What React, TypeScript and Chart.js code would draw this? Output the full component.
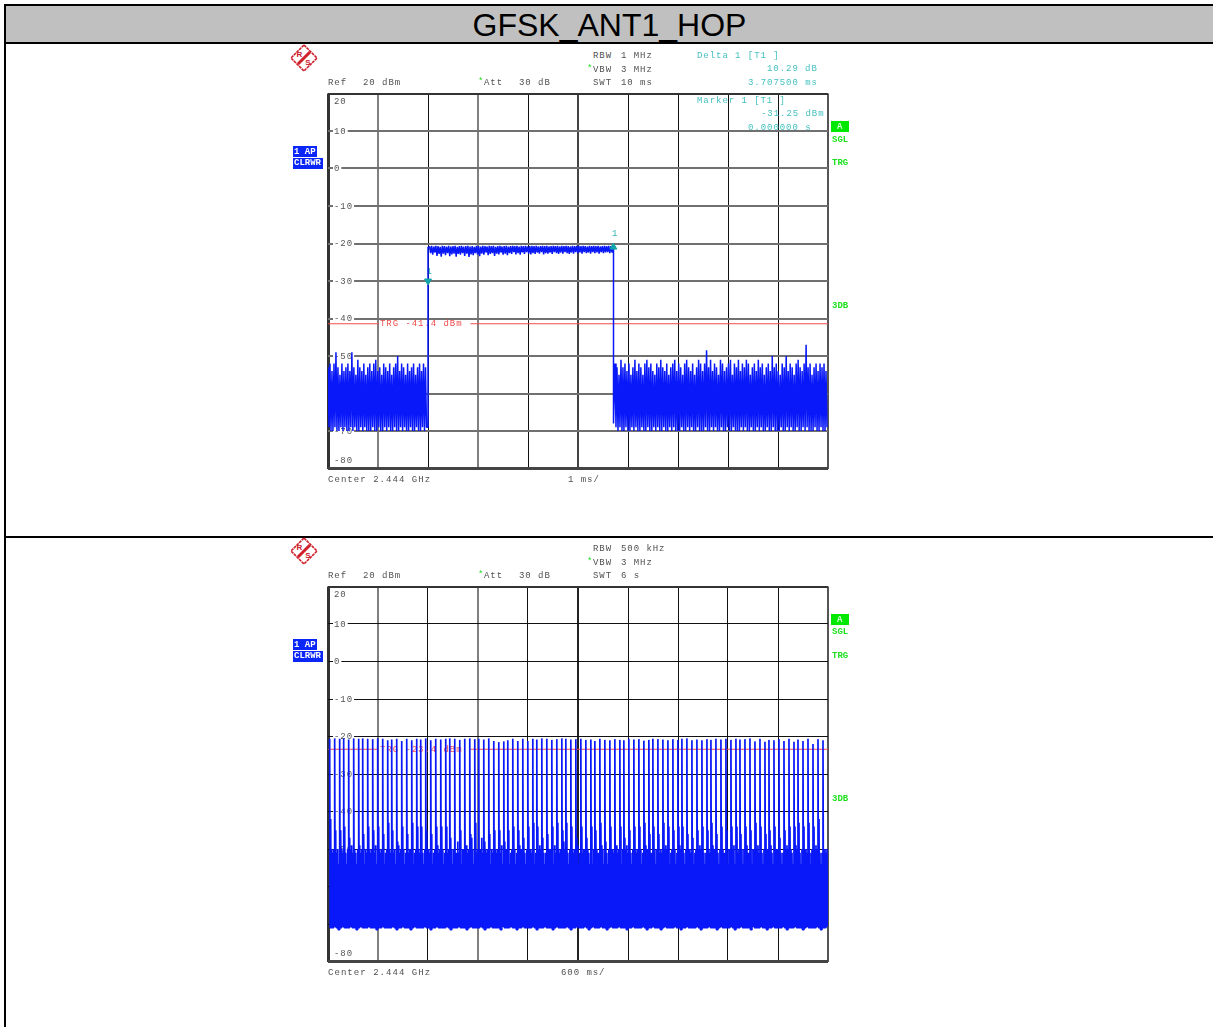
import React, { useEffect, useRef } from "react";
import { Chart, registerables } from "chart.js";

Chart.register(...registerables);

// ---- shared axis values
const yTicks = [20, 10, 0, -10, -20, -30, -40, -50, -60, -70, -80];
const yLabelled = [20, 10, 0, -10, -20, -30, -40, -50, -70, -80];
const xTicksA = [0, 1, 2, 3, 4, 5, 6, 7, 8, 9, 10];
const xTicksB = [0, 0.6, 1.2, 1.8, 2.4, 3, 3.6, 4.2, 4.8, 5.4, 6];

// ---- upper trace (10 ms sweep, dBm)
const noiseLeftPeaks = [-53, -52, -54, -52, -49, -53, -55, -52, -54, -53, -52, -54, -49, -53, -55, -51, -53, -54, -52, -55, -53, -52, -54, -52, -51, -54, -53, -55, -52, -53, -54, -52, -55, -53, -52, -50, -54, -52, -53, -55, -52, -54, -53, -52, -55, -53, -52, -54, -52, -53];
const noiseLeftFloors = [-69, -70, -70, -69, -70, -70, -69, -70, -69, -70, -70, -69, -70, -69, -70, -70, -69, -70, -69, -70, -70, -70, -69, -70, -70, -69, -70, -70, -69, -70, -69, -70, -70, -69, -70, -70, -69, -70, -69, -70, -70, -69, -70, -70, -69, -70, -70, -69, -70, -69];
const pulseSamples = [-20.7, -22.6, -20.6, -23, -20.8, -22.4, -20.6, -23.3, -20.7, -22.8, -20.9, -23.5, -20.6, -22.7, -20.7, -23.1, -20.8, -22.6, -20.6, -23.4, -20.8, -22.9, -20.7, -22.7, -20.6, -23.5, -20.9, -22.8, -20.7, -23, -20.6, -22.6, -20.8, -23.3, -20.7, -22.7, -20.6, -23.6, -20.8, -22.9, -20.7, -23.1, -20.9, -22.6, -20.6, -22.9, -20.7, -23.4, -20.8, -22.7, -20.6, -23, -20.7, -22.4, -20.8, -23.1, -20.6, -22.8, -20.7, -22.6, -20.6, -23.3, -20.9, -22.7, -20.7, -22.9, -20.6, -22.4, -20.8, -23, -20.7, -22.7, -20.6, -23.1, -20.8, -22.6, -20.7, -22.8, -20.6, -22.3, -20.7, -22.9, -20.6, -22.6, -20.8, -23, -20.6, -22.4, -20.7, -22.8, -20.6, -22.3, -20.8, -22.7, -20.7, -22.9, -20.6, -22.6, -20.7, -22.8, -20.6, -22.4, -20.8, -22.7, -20.7, -22.3, -20.6, -22.9, -20.7, -22.6, -20.6, -22.7, -20.8, -22.4, -20.7, -22.8, -20.6, -22.3, -20.7, -22.6, -20.6, -22.8, -20.8, -22.4, -20.6, -22.7, -20.7, -22.3, -20.6, -22.6, -20.7, -22.8, -20.8, -22.4, -20.6, -22.7, -20.7, -22.3, -20.6, -22.6, -20.6, -22.4, -20.7, -22.7, -20.6, -22.3, -20.7, -22.6, -20.8, -22.4, -20.6, -22.7, -20.7, -22.3, -20.6, -22.6, -20.7, -22.4, -20.6, -22.7, -20.8, -22.3, -20.7, -22.6, -20.6, -22.4, -20.7, -22.3, -20.6, -22.6, -20.7, -22.4];
const noiseRightPeaks = [-52, -53, -55, -51, -53, -52, -54, -52, -55, -53, -51, -54, -52, -53, -55, -52, -51, -53, -52, -54, -55, -52, -53, -51, -53, -54, -52, -55, -53, -52, -51, -54, -52, -53, -55, -52, -51, -53, -54, -52, -55, -53, -51, -52, -54, -52, -48.5, -53, -51, -54, -52, -53, -55, -51, -52, -54, -53, -52, -51, -55, -52, -53, -51, -54, -52, -53, -51, -52, -55, -53, -52, -54, -51, -53, -52, -55, -53, -52, -54, -50, -53, -52, -54, -55, -52, -53, -50, -54, -52, -53, -55, -52, -51, -53, -54, -52, -47, -53, -52, -55, -53, -52, -54, -52, -53, -52, -54];
const noiseRightFloors = [-69, -70, -69, -70, -70, -69, -70, -70, -69, -70, -69, -70, -70, -69, -70, -70, -69, -70, -70, -69, -70, -69, -70, -70, -69, -70, -70, -69, -70, -69, -70, -70, -70, -69, -70, -70, -69, -70, -69, -70, -70, -69, -70, -70, -70, -69, -70, -70, -69, -70, -69, -70, -70, -69, -70, -70, -69, -70, -70, -69, -70, -70, -70, -69, -70, -69, -70, -70, -69, -70, -70, -69, -70, -69, -70, -70, -69, -70, -70, -69, -70, -70, -70, -69, -70, -70, -69, -70, -69, -70, -70, -69, -70, -70, -69, -70, -69, -70, -70, -70, -69, -70, -70, -69, -70, -70, -69];
const riseEdge = [[2, -69], [2, -21], [2.03, -21]];
const fallEdge = [[5.71, -21], [5.71, -68]];

// ---- lower trace (6 s sweep, dBm): one row per hop
const hopRows = [
  [-20.6, -42, -50, -51, -50],
  [-20.5, -45, -51, -50, -54],
  [-20.6, -45, -50, -51],
  [-20.5, -44, -51, -54, -50],
  [-20.8, -47, -50, -49, -51],
  [-20.5, -50, -51, -54, -50],
  [-20.6, -49, -51, -50],
  [-20.5, -46, -54, -50, -51],
  [-20.6, -44, -50, -51, -50],
  [-20.7, -45, -51, -49, -54],
  [-20.5, -44, -50, -51, -50],
  [-20.6, -46, -54, -51, -50],
  [-21, -43, -50, -51],
  [-20.8, -45, -51, -50, -54],
  [-20.6, -48, -49, -51, -50],
  [-21.2, -44, -50, -54, -51],
  [-20.6, -46, -51, -50, -50],
  [-21, -43, -54, -51, -50],
  [-20.6, -44, -50, -51],
  [-20.8, -44, -51, -54, -50],
  [-20.5, -45, -50, -50, -51],
  [-21, -46, -54, -51, -50],
  [-20.6, -44, -49, -51, -50],
  [-20.8, -44, -50, -54, -51],
  [-20.6, -44, -51, -50],
  [-20.5, -47, -50, -54, -50],
  [-20.6, -52, -51, -48, -51],
  [-20.9, -45, -54, -50, -50],
  [-20.6, -51, -49, -51, -50],
  [-20.5, -46, -47, -50, -54],
  [-20.7, -43, -51, -50],
  [-20.6, -52, -50, -47, -51],
  [-20.8, -48, -50, -51, -50],
  [-20.5, -46, -54, -50, -51],
  [-21.2, -45, -50, -51, -50],
  [-21.5, -45, -51, -49, -54],
  [-21.3, -48, -50, -50],
  [-21, -45, -54, -51, -50],
  [-20.6, -44, -50, -54, -51],
  [-21.2, -45, -49, -50, -50],
  [-20.6, -47, -51, -54, -50],
  [-21.2, -44, -50, -50, -51],
  [-20.6, -43, -54, -51],
  [-20.8, -44, -50, -49, -50],
  [-20.5, -47, -51, -54, -51],
  [-20.6, -46, -50, -50, -50],
  [-20.9, -44, -54, -49, -51],
  [-20.7, -43, -50, -51, -50],
  [-20.5, -45, -48, -50],
  [-20.6, -43, -51, -54, -50],
  [-20.8, -44, -50, -51, -50],
  [-20.7, -47, -49, -54, -51],
  [-20.6, -44, -51, -50, -50],
  [-20.9, -47, -50, -51, -54],
  [-20.8, -44, -54, -50],
  [-21.2, -45, -50, -51, -51],
  [-20.6, -43, -49, -50, -54],
  [-20.9, -48, -51, -54, -50],
  [-21, -44, -50, -50, -51],
  [-20.7, -51, -49, -51, -50],
  [-20.9, -44, -54, -50],
  [-21, -47, -50, -49, -51],
  [-20.6, -45, -51, -54, -50],
  [-20.8, -44, -50, -51, -50],
  [-20.7, -44, -50, -54, -51],
  [-21.1, -43, -49, -50, -50],
  [-20.9, -46, -51, -51],
  [-20.6, -44, -50, -54, -50],
  [-20.7, -46, -51, -50, -51],
  [-20.8, -43, -50, -49, -50],
  [-21, -44, -54, -51, -50],
  [-20.7, -45, -50, -54, -51],
  [-20.9, -44, -49, -50],
  [-20.6, -44, -51, -54, -50],
  [-20.5, -46, -50, -50, -51],
  [-21, -47, -54, -51, -50],
  [-20.8, -45, -50, -49, -50],
  [-21, -44, -51, -54, -51],
  [-20.7, -45, -50, -51],
  [-20.9, -43, -49, -50, -50],
  [-20.6, -46, -51, -54, -50],
  [-20.8, -44, -50, -51, -51],
  [-20.6, -45, -54, -50, -50],
  [-20.9, -44, -50, -49, -54],
  [-20.6, -44, -51, -50],
  [-20.8, -46, -50, -54, -50],
  [-20.7, -44, -49, -51, -51],
  [-20.5, -45, -54, -50, -50],
  [-21.3, -43, -50, -49, -51],
  [-20.6, -44, -51, -54, -50],
  [-21.4, -46, -50, -50],
  [-20.9, -45, -49, -51, -54],
  [-21, -44, -50, -50, -50],
  [-20.7, -47, -51, -54, -51],
  [-21.2, -45, -50, -49, -50],
  [-20.6, -44, -50, -51, -54],
  [-21.4, -44, -49, -50],
  [-20.8, -43, -51, -54, -50],
  [-21.2, -44, -50, -50, -51],
  [-20.6, -43, -54, -51, -50],
  [-22, -44, -50, -49, -50],
  [-20.7, -42, -51, -54, -51],
  [-21, -50, -50, -51, -50],
];
const hopFloors = [-71, -71, -70.6, -71, -71.5, -71, -70.6, -71, -71, -71, -70.6, -71, -71, -71.5, -71, -70.6, -71, -71, -71, -70.6, -71, -71, -71, -71.5, -71, -71, -70.6, -71, -71, -71, -71, -70.6, -71, -71.5, -71, -71, -70.6, -71, -71, -71, -71.5, -71, -70.6, -71, -71, -71, -71, -70.6, -71, -71, -71.5, -71, -71, -70.6, -71, -71, -71, -71, -70.6, -71, -71.5, -71, -71, -71, -70.6, -71, -71, -71, -71.5, -71, -70.6, -71, -71, -71, -71, -70.6, -71, -71.5, -71, -71, -70.6, -71, -71, -71, -71, -71.5, -70.6, -71, -71, -71, -70.6, -71, -71, -71.5, -71, -71, -70.6, -71, -71, -71, -71, -70.6, -71, -71.5, -71, -71, -71, -70.6, -71, -71, -71, -71.5, -71, -70.6, -71, -71, -71, -71, -70.6, -71, -71.5, -71, -71, -70.6, -71];

// ---- markers and trigger levels
const markerXs = [2, 5.7075];
const markerYs = [-30, -20.96];
const markerRotations = [180, 0];
const markerLabelLift = [9, 13];
const triggerA = -41.4;
const triggerB = -23.4;
const triggerGap = [1.02, 2.85];
const triggerGapB = [0.612, 1.71];

// ---- texts: [x, centre y, text]
const headerTitle = "GFSK_ANT1_HOP";
const greyTextA: [number, number, string][] = [
  [593, 55, "RBW"], [621, 55, "1 MHz"], [593, 69, "VBW"], [621, 69, "3 MHz"], [593, 82, "SWT"], [621, 82, "10 ms"],
  [328, 82, "Ref"], [363, 82, "20 dBm"], [484, 82, "Att"], [519, 82, "30 dB"], [568, 479, "1 ms/"],
];
const greyTextB: [number, number, string][] = [
  [593, 548, "RBW"], [621, 548, "500 kHz"], [593, 562, "VBW"], [621, 562, "3 MHz"], [593, 575, "SWT"], [621, 575, "6 s"],
  [328, 575, "Ref"], [363, 575, "20 dBm"], [484, 575, "Att"], [519, 575, "30 dB"], [561, 972, "600 ms/"],
];
const centerText: [number, number, string][] = [
  [328, 479, "Center 2.444 GHz"], [328, 972, "Center 2.444 GHz"],
];
const tealText: [number, number, string][] = [
  [697, 55, "Delta 1 [T1 ]"], [767, 68, "10.29 dB"], [748, 82, "3.707500 ms"],
  [697, 100, "Marker 1 [T1 ]"], [761, 113, "-31.25 dBm"], [748, 127, "0.000000 s"],
];
const starText: [number, number, string][] = [
  [478, 81, "*"], [587, 68, "*"], [478, 574, "*"], [587, 561, "*"],
];
const greenText: [number, number, string][] = [
  [832, 139, "SGL"], [832, 162, "TRG"], [832, 305, "3DB"],
  [832, 631, "SGL"], [832, 655, "TRG"], [832, 798, "3DB"],
];
const statusTops = [121, 614];
const traceTops = [146, 639];
const logoTops = [58, 551];

const TRACE = "#0818f8";
const MONO = '"Liberation Mono", monospace';

function zigzag(peaks: number[], floors: number[], start: number, end: number) {
  const dx = (end - start) / peaks.length;
  const out: { x: number; y: number }[] = [];
  peaks.forEach((p, i) => {
    out.push({ x: start + i * dx, y: p });
    out.push({ x: start + (i + 0.5) * dx, y: floors[i % floors.length] });
  });
  return out;
}

function pulseLine(samples: number[], start: number, end: number) {
  const dx = (end - start) / samples.length;
  return samples.map((y, i) => ({ x: start + i * dx, y }));
}

const pairs = (list: number[][]) => list.map(([x, y]) => ({ x, y }));

const traceA = [
  ...zigzag(noiseLeftPeaks, noiseLeftFloors, 0, 1.99),
  ...pairs(riseEdge),
  ...pulseLine(pulseSamples, 2.03, 5.7),
  ...pairs(fallEdge),
  ...zigzag(noiseRightPeaks, noiseRightFloors, 5.74, 10),
];

const hopPeaks = hopRows.flat();
const hopFloorsFull = hopPeaks.map((_, i) => hopFloors[Math.floor(i / 2) % hopFloors.length]);
const traceB = zigzag(hopPeaks, hopFloorsFull, 0.02, 6);

type Cfg = {
  xMax: number;
  xTicks: number[];
  trace: { x: number; y: number }[];
  traceWidth: number;
  trigger: number;
  gap: number[];
  hColor: string;
  hWidth: number;
  vColors: string[];
  markers: boolean;
};

const cfgA: Cfg = {
  xMax: 10, xTicks: xTicksA, trace: traceA, traceWidth: 1.5, trigger: triggerA, gap: triggerGap,
  hColor: "#707070", hWidth: 2,
  vColors: ["#333", "#808080", "#111", "#808080", "#111", "#444", "#111", "#111", "#111", "#111", "#555"],
  markers: true,
};
const cfgB: Cfg = {
  xMax: 6, xTicks: xTicksB, trace: traceB, traceWidth: 1.7, trigger: triggerB, gap: triggerGapB,
  hColor: "#111", hWidth: 1,
  vColors: ["#333", "#808080", "#111", "#808080", "#111", "#222", "#111", "#111", "#111", "#111", "#555"],
  markers: false,
};

const vWidths = [3, 2, 1, 2, 1, 2, 1, 1, 1, 1, 2];

function SpecChart({ cfg, top }: { cfg: Cfg; top: number }) {
  const ref = useRef<HTMLCanvasElement>(null);
  useEffect(() => {
    const underlay = {
      id: "underlay",
      beforeDatasetsDraw(chart: any) {
        const { ctx, chartArea, scales } = chart;
        const y = scales.y;
        const x = scales.x;
        ctx.save();
        ctx.font = `9px ${MONO}`;
        (ctx as any).letterSpacing = "0.95px";
        ctx.textBaseline = "middle";
        ctx.textAlign = "left";
        yLabelled.forEach((v) => {
          const text = String(v);
          const shift = v === 20 ? 7.5 : v === -80 ? -8 : 0;
          const py = y.getPixelForValue(v) + shift;
          const lx = chartArea.left + 6;
          const w = ctx.measureText(text).width;
          ctx.fillStyle = "#fff";
          ctx.fillRect(lx - 1, py - 4, w + 2, 8);
          ctx.fillStyle = "#555";
          ctx.fillText(text, lx, py + 0.5);
        });
        ctx.fillStyle = "#f04c4c";
        const trgLabel = `TRG ${cfg.trigger.toFixed(1)} dBm`;
        ctx.fillText(trgLabel, x.getPixelForValue(cfg.gap[0]) + 1, y.getPixelForValue(cfg.trigger));
        if (cfg.markers) {
          ctx.fillStyle = "#35b5b5";
          markerXs.forEach((mx, i) => {
            ctx.fillText("1", x.getPixelForValue(mx) - 1.5, y.getPixelForValue(markerYs[i]) - markerLabelLift[i]);
          });
        }
        ctx.restore();
      },
    };
    const trgSeg = (from: number, to: number) => ({
      data: [{ x: from, y: cfg.trigger }, { x: to, y: cfg.trigger }],
      borderColor: "#f24a4a",
      borderWidth: 1,
      pointRadius: 0,
      showLine: true,
      order: 3,
    });
    const datasets: any[] = [
      trgSeg(0, cfg.gap[0]),
      trgSeg(cfg.gap[1], cfg.xMax),
      {
        data: cfg.trace,
        borderColor: TRACE,
        borderWidth: cfg.traceWidth,
        borderJoinStyle: "bevel",
        pointRadius: 0,
        showLine: true,
        order: 2,
      },
    ];
    if (cfg.markers) {
      datasets.push({
        data: markerXs.map((x, i) => ({ x, y: markerYs[i] })),
        pointStyle: "triangle",
        pointRadius: 4,
        rotation: markerRotations,
        backgroundColor: "#12a4a8",
        borderColor: "#12a4a8",
        showLine: false,
        order: 1,
      });
    }
    const chart = new Chart(ref.current!, {
      type: "scatter",
      data: { datasets },
      plugins: [underlay],
      options: {
        animation: false,
        responsive: false,
        devicePixelRatio: 1,
        layout: { padding: { left: 8, right: 12, top: 7.5, bottom: 7.5 } },
        plugins: { legend: { display: false }, tooltip: { enabled: false }, title: { display: false } },
        scales: {
          x: {
            type: "linear",
            min: 0,
            max: cfg.xMax,
            afterBuildTicks: (s: any) => { s.ticks = cfg.xTicks.map((value) => ({ value })); },
            ticks: { display: false },
            border: { display: false },
            grid: {
              drawTicks: false,
              color: (c: any) => cfg.vColors[c.index] ?? "#111",
              lineWidth: (c: any) => vWidths[c.index] ?? 1,
            },
          },
          y: {
            type: "linear",
            min: -80,
            max: 20,
            afterBuildTicks: (s: any) => { s.ticks = yTicks.map((value) => ({ value })); },
            ticks: { display: false },
            border: { display: false },
            grid: {
              drawTicks: false,
              color: (c: any) => {
                const v = c.tick?.value;
                return v === 20 ? "#333" : v === -80 ? "#444" : cfg.hColor;
              },
              lineWidth: (c: any) => {
                const v = c.tick?.value;
                return v === 20 ? 2 : v === -80 ? 3 : cfg.hWidth;
              },
            },
          },
        },
      },
    } as any);
    return () => chart.destroy();
  }, [cfg]);
  return (
    <canvas
      ref={ref}
      width={520}
      height={390}
      style={{ position: "absolute", left: 320, top, width: 520, height: 390 }}
    />
  );
}

function Label({ x, y, text, color, spacing = 0.95, bold = false }: { x: number; y: number; text: string; color: string; spacing?: number; bold?: boolean }) {
  return (
    <span
      style={{
        position: "absolute", left: x, top: y - 5.5, height: 12,
        font: `${bold ? "bold " : ""}9px/12px ${MONO}`, letterSpacing: spacing, whiteSpace: "pre", color,
      }}
    >
      {text}
    </span>
  );
}

function Logo({ cy }: { cy: number }) {
  return (
    <svg style={{ position: "absolute", left: 290, top: cy - 14 }} width={28} height={28} viewBox="0 0 28 28">
      <polygon points="14,1 27,14 14,27 1,14" fill="#fff" stroke="#d0202c" strokeWidth={1.6} strokeDasharray="3 0.7" />
      <line x1={20} y1={8} x2={8} y2={20} stroke="#d0202c" strokeWidth={3} />
      <text x={9.5} y={12.5} fontSize={8} fontFamily='"Liberation Sans"' fontWeight="bold" fill="#c8202c" textAnchor="middle">R</text>
      <text x={18} y={21} fontSize={8} fontFamily='"Liberation Sans"' fontWeight="bold" fill="#c8202c" textAnchor="middle">S</text>
    </svg>
  );
}

const box = (left: number, top: number, width: number, height: number, background: string): React.CSSProperties => ({
  position: "absolute", left, top, width, height, background,
});

export default function App() {
  return (
    <div style={{ position: "absolute", left: 0, top: 0, width: 1213, height: 1027, overflow: "hidden", background: "#fff" }}>
      <div style={box(4, 4, 1209, 2, "#000")} />
      <div style={box(4, 4, 2, 1023, "#000")} />
      <div style={box(6, 6, 1207, 36, "#c0c0c0")} />
      <div style={box(4, 42, 1209, 2, "#000")} />
      <div style={box(4, 536, 1209, 2, "#000")} />
      <div
        style={{
          position: "absolute", left: 6, top: 7, width: 1207, height: 36, textAlign: "center",
          font: '32px/37px "Liberation Sans"', color: "#000",
        }}
      >
        {headerTitle}
      </div>
      {logoTops.map((c) => <Logo key={c} cy={c} />)}
      <SpecChart cfg={cfgA} top={86} />
      <SpecChart cfg={cfgB} top={579} />
      {[...greyTextA, ...greyTextB].map(([x, y, t], i) => <Label key={`g${i}`} x={x} y={y} text={t} color="#505050" />)}
      {centerText.map(([x, y, t], i) => <Label key={`c${i}`} x={x} y={y} text={t} color="#505050" spacing={1.05} />)}
      {tealText.map(([x, y, t], i) => <Label key={`t${i}`} x={x} y={y} text={t} color="#45c0c0" />)}
      {starText.map(([x, y, t], i) => <Label key={`s${i}`} x={x} y={y} text={t} color="#1fe01f" />)}
      {greenText.map(([x, y, t], i) => <Label key={`n${i}`} x={x} y={y} text={t} color="#1fe01f" spacing={0} bold />)}
      {statusTops.map((t) => (
        <div key={t} style={box(831, t, 18, 11, "#00e800")}>
          <Label x={6} y={5} text="A" color="#d0ffd0" spacing={0} bold />
        </div>
      ))}
      {traceTops.map((t) => (
        <React.Fragment key={t}>
          <div style={box(293, t, 24, 11, "#0a26f8")}><Label x={1} y={5} text="1 AP" color="#fff" spacing={0} bold /></div>
          <div style={box(293, t + 11.5, 30, 11, "#0a26f8")}><Label x={1} y={5} text="CLRWR" color="#fff" spacing={0} bold /></div>
        </React.Fragment>
      ))}
    </div>
  );
}
